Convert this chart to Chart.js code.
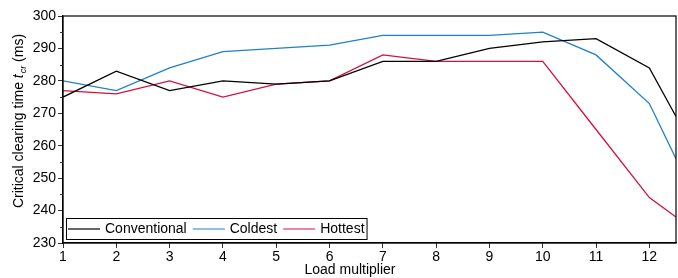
<!DOCTYPE html>
<html>
<head>
<meta charset="utf-8">
<script src="https://cdn.jsdelivr.net/npm/chart.js@4"></script>
<style>
  html, body { margin: 0; padding: 0; background: #fff; }
  #wrap { width: 678px; height: 278px; }
</style>
</head>
<body>
<div id="wrap"><canvas id="chart" width="678" height="278"></canvas></div>
<script>
const loadMultiplier = [1, 2, 3, 4, 5, 6, 7, 8, 9, 10, 11, 12, 12.5];
const conventional = [275, 283, 277, 280, 279, 280, 286, 286, 290, 292, 293, 284, 269];
const coldest = [280, 277, 284, 289, 290, 291, 294, 294, 294, 295, 288, 273, 256];
const hottest = [277, 276, 280, 275, 279, 280, 288, 286, 286, 286, 265, 244, 238];
const seriesNames = ["Conventional", "Coldest", "Hottest"];
const seriesColors = ["#000000", "#1f80cc", "#d3123c"];
const xTicks = [1, 2, 3, 4, 5, 6, 7, 8, 9, 10, 11, 12];
const yTicks = [230, 240, 250, 260, 270, 280, 290, 300];

const FONT = "Liberation Sans, Arial, sans-serif";

function toPoints(vals) {
    return vals.map((v, i) => ({ x: loadMultiplier[i], y: v }));
}

// frame, minor ticks, axis titles, legend box
const extras = {
    id: "extras",
    afterDraw(chart) {
        const ctx = chart.ctx;
        const a = chart.chartArea;
        const ys = chart.scales.y;
        ctx.save();
        ctx.strokeStyle = "#000";
        ctx.lineWidth = 1.2;
        ctx.strokeRect(a.left, a.top, a.right - a.left, a.bottom - a.top);

        // minor y ticks
        ctx.lineWidth = 1;
        ctx.strokeStyle = "#333";
        for (let v = 235; v < 300; v += 10) {
            const y = Math.round(ys.getPixelForValue(v)) + 0.5;
            ctx.beginPath();
            ctx.moveTo(a.left - 3, y);
            ctx.lineTo(a.left, y);
            ctx.stroke();
        }

        // y title
        ctx.fillStyle = "#000";
        ctx.translate(19, 121);
        ctx.rotate(-Math.PI / 2);
        const p1 = "Critical clearing time ";
        const p2 = "t";
        const p3 = "cr";
        const p4 = " (ms)";
        ctx.font = "14px " + FONT;
        const w1 = ctx.measureText(p1).width;
        const w4 = ctx.measureText(p4).width;
        ctx.font = "italic 14px " + FONT;
        const w2 = ctx.measureText(p2).width + 1;
        ctx.font = "italic 9px " + FONT;
        const w3 = ctx.measureText(p3).width;
        const total = w1 + w2 + w3 + w4;
        let x = -total / 2;
        ctx.textBaseline = "middle";
        ctx.textAlign = "left";
        ctx.font = "14px " + FONT;
        ctx.fillText(p1, x, 0); x += w1;
        ctx.font = "italic 14px " + FONT;
        ctx.fillText(p2, x, 0); x += w2;
        ctx.font = "italic 9px " + FONT;
        ctx.fillText(p3, x, 4); x += w3;
        ctx.font = "14px " + FONT;
        ctx.fillText(p4, x, 0);
        ctx.restore();

        // x title
        ctx.save();
        ctx.fillStyle = "#000";
        ctx.font = "14px " + FONT;
        ctx.textAlign = "center";
        ctx.textBaseline = "middle";
        ctx.fillText("Load multiplier", 350, 270);
        ctx.restore();

        // legend
        ctx.save();
        ctx.font = "14px " + FONT;
        ctx.textBaseline = "middle";
        const lx = a.left + 3, ly = a.bottom - 25, lh = 21;
        let cx = lx + 2;
        const items = [];
        seriesNames.forEach((name, i) => {
            items.push({ name, color: seriesColors[i], x: cx });
            cx += 37 + ctx.measureText(name).width + 6;
        });
        const lw = cx - lx - 4;
        ctx.fillStyle = "#fff";
        ctx.fillRect(lx, ly, lw, lh);
        ctx.strokeStyle = "#000";
        ctx.lineWidth = 1;
        ctx.strokeRect(lx + 0.5, ly + 0.5, lw, lh);
        items.forEach(it => {
            const my = ly + lh / 2 + 0.5;
            ctx.strokeStyle = it.color;
            ctx.lineWidth = 1.2;
            ctx.beginPath();
            ctx.moveTo(it.x, my);
            ctx.lineTo(it.x + 32, my);
            ctx.stroke();
            ctx.fillStyle = "#000";
            ctx.fillText(it.name, it.x + 37, my);
        });
        ctx.restore();
    }
};

new Chart(document.getElementById("chart"), {
    type: "line",
    data: {
        datasets: [conventional, coldest, hottest].map((vals, i) => ({
            label: seriesNames[i],
            data: toPoints(vals),
            borderColor: seriesColors[i],
            borderWidth: 1.3,
            pointRadius: 0,
            tension: 0,
            fill: false
        }))
    },
    options: {
        responsive: false,
        animation: false,
        layout: { padding: { top: 16, right: 2, left: 0, bottom: 0 } },
        plugins: { legend: { display: false }, tooltip: { enabled: false } },
        scales: {
            x: {
                type: "linear",
                min: 1,
                max: 12.5,
                afterBuildTicks: s => { s.ticks = xTicks.map(v => ({ value: v })); },
                afterFit: s => { s.height = 35; },
                ticks: { color: "#000", font: { family: FONT, size: 14 }, padding: 1, maxRotation: 0 },
                grid: { drawOnChartArea: false, drawTicks: true, tickLength: 5, color: "#333" },
                border: { display: true, color: "#000", width: 1.2 }
            },
            y: {
                min: 230,
                max: 300,
                afterBuildTicks: s => { s.ticks = yTicks.map(v => ({ value: v })); },
                afterFit: s => { s.width = 63; },
                ticks: { color: "#000", font: { family: FONT, size: 14 }, padding: 2 },
                grid: { drawOnChartArea: false, drawTicks: true, tickLength: 5, color: "#333" },
                border: { display: true, color: "#000", width: 1.2 }
            }
        }
    },
    plugins: [extras]
});
</script>
</body>
</html>
